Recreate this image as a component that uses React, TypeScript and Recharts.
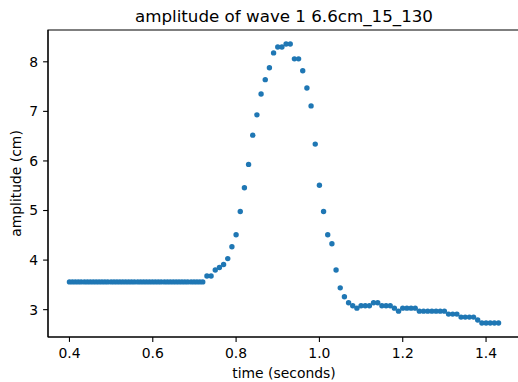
import { Label, ReferenceArea, Scatter, ScatterChart, XAxis, YAxis } from "recharts";

// time (s) of each sample
const time = [
  0.4, 0.407, 0.414, 0.421, 0.428, 0.436, 0.443, 0.45, 0.457, 0.464, 0.471, 0.478, 0.485, 0.492, 0.5, 0.507,
  0.514, 0.521, 0.528, 0.535, 0.542, 0.549, 0.556, 0.564, 0.571, 0.578, 0.585, 0.592, 0.599, 0.606, 0.613,
  0.62, 0.628, 0.635, 0.642, 0.649, 0.656, 0.663, 0.67, 0.677, 0.684, 0.692, 0.699, 0.706, 0.713, 0.72,
  0.73, 0.74, 0.75, 0.76, 0.77, 0.78, 0.79, 0.8, 0.81, 0.82, 0.83, 0.84, 0.85, 0.86, 0.87, 0.88, 0.89, 0.9,
  0.91, 0.92, 0.93, 0.94, 0.95, 0.96, 0.97, 0.98, 0.99,
  1.0, 1.01, 1.02, 1.03, 1.04, 1.05, 1.06, 1.07, 1.08, 1.09, 1.1, 1.11, 1.12, 1.13, 1.14, 1.15, 1.16, 1.17,
  1.18, 1.19, 1.2, 1.21, 1.22, 1.23, 1.24, 1.25, 1.26, 1.27, 1.28, 1.29, 1.3, 1.31, 1.32, 1.33, 1.34, 1.35,
  1.36, 1.37, 1.38, 1.39, 1.4, 1.41, 1.42, 1.43,
];

// amplitude (cm) at each sample
const amplitude = [
  3.56, 3.56, 3.56, 3.56, 3.56, 3.56, 3.56, 3.56, 3.56, 3.56, 3.56, 3.56, 3.56, 3.56, 3.56, 3.56,
  3.56, 3.56, 3.56, 3.56, 3.56, 3.56, 3.56, 3.56, 3.56, 3.56, 3.56, 3.56, 3.56, 3.56, 3.56,
  3.56, 3.56, 3.56, 3.56, 3.56, 3.56, 3.56, 3.56, 3.56, 3.56, 3.56, 3.56, 3.56, 3.56, 3.56,
  3.68, 3.68, 3.8, 3.85, 3.91, 4.03, 4.27, 4.51, 4.98, 5.46, 5.93, 6.52, 6.93, 7.35, 7.64, 7.88, 8.18, 8.3,
  8.3, 8.36, 8.36, 8.06, 8.06, 7.82, 7.47, 7.11, 6.34,
  5.51, 4.98, 4.51, 4.33, 3.8, 3.44, 3.26, 3.14, 3.08, 3.03, 3.08, 3.08, 3.08, 3.14, 3.14, 3.08, 3.08, 3.08,
  3.03, 2.97, 3.03, 3.03, 3.03, 3.03, 2.97, 2.97, 2.97, 2.97, 2.97, 2.97, 2.97, 2.91, 2.91, 2.91, 2.85, 2.85,
  2.85, 2.85, 2.79, 2.73, 2.73, 2.73, 2.73, 2.73,
];

const xTicks = [0.4, 0.6, 0.8, 1.0, 1.2, 1.4];
const yTicks = [3, 4, 5, 6, 7, 8];

const data = time.map((t, i) => ({ t, a: amplitude[i] }));

const X_DOMAIN: [number, number] = [0.3485, 1.4815];
const Y_DOMAIN: [number, number] = [2.4485, 8.6415];
const FONT = "DejaVu Sans";
const tickStyle = { fontSize: 13.9, fill: "#000", fontFamily: FONT };

function Dot(props: any) {
  return <circle cx={props.cx} cy={props.cy} r={2.7} fill="#1f77b4" />;
}

function YTitle(props: any) {
  const vb = props.viewBox;
  const x = 21;
  const y = vb.y + vb.height / 2;
  return (
    <text x={x} y={y} transform={`rotate(-90 ${x} ${y})`} textAnchor="middle" fontSize={13.9} fontFamily={FONT} fill="#000">
      amplitude (cm)
    </text>
  );
}

export default function App() {
  return (
    <div style={{ position: "absolute", left: 0, top: 0, width: 518, height: 382, overflow: "hidden", background: "#fff" }}>
      <ScatterChart width={530} height={382} margin={{ top: 30, right: 10, bottom: 0, left: 0 }}>
        <XAxis
          type="number"
          dataKey="t"
          domain={X_DOMAIN}
          ticks={xTicks}
          allowDataOverflow
          height={45}
          tick={tickStyle}
          tickSize={4.9}
          tickMargin={6.7}
          tickLine={{ stroke: "#000", strokeWidth: 1.1 }}
          axisLine={{ stroke: "#000", strokeWidth: 1.1 }}
          tickFormatter={(v: number) => v.toFixed(1)}
        >
          <Label value="time (seconds)" position="insideBottom" offset={4.5} fontSize={13.9} fontFamily={FONT} fill="#000" />
        </XAxis>
        <YAxis
          type="number"
          dataKey="a"
          domain={Y_DOMAIN}
          ticks={yTicks}
          allowDataOverflow
          width={48}
          tick={tickStyle}
          tickSize={4.9}
          tickMargin={4.9}
          tickLine={{ stroke: "#000", strokeWidth: 1.1 }}
          axisLine={{ stroke: "#000", strokeWidth: 1.1 }}
        >
          <Label content={YTitle} />
        </YAxis>
        <ReferenceArea
          x1={X_DOMAIN[0]}
          x2={X_DOMAIN[1]}
          y1={Y_DOMAIN[0]}
          y2={Y_DOMAIN[1]}
          fill="none"
          fillOpacity={0}
          stroke="#000"
          strokeWidth={1.1}
          strokeOpacity={1}
        >
          <Label value="amplitude of wave 1 6.6cm_15_130" position="top" offset={8} fontSize={16.7} fontFamily={FONT} fill="#000" />
        </ReferenceArea>
        <Scatter data={data} shape={Dot} isAnimationActive={false} />
      </ScatterChart>
    </div>
  );
}
